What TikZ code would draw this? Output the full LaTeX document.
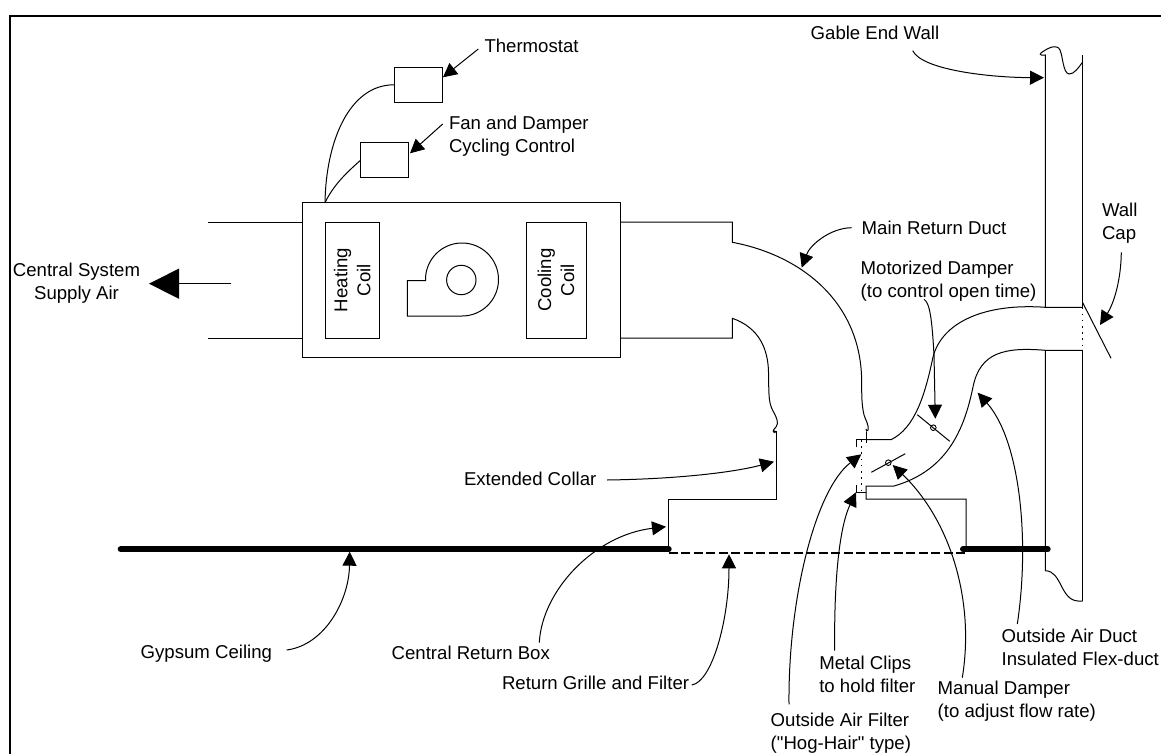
\documentclass[tikz,border=0pt]{standalone}
\usepackage{fontspec}
\newfontfamily\lf{Liberation Sans}
\usetikzlibrary{arrows.meta}
\tikzset{
  base/.style={line width=1pt,black},
  boxnode/.style={draw,line width=1pt,inner sep=0pt,outer sep=0pt,anchor=center},
  lab/.style={anchor=north west,inner sep=0pt,outer sep=0pt,align=left,font=\lf\fontsize{18.6}{23}\selectfont},
  labc/.style={anchor=north,inner sep=0pt,outer sep=0pt,align=center,font=\lf\fontsize{18.6}{23}\selectfont},
  coil/.style={inner sep=0pt,outer sep=0pt,align=center,rotate=90,font=\lf\fontsize{18.6}{23}\selectfont},
  lead/.style={line width=1pt,-{Triangle[length=14pt,width=14pt]}},
  ceiling/.style={line width=6pt,line cap=round},
  dots/.style={line width=1.5pt,dash pattern=on 1.6pt off 4.6pt},
  pivot/.style={circle,draw,line width=.9pt,minimum size=5.6pt,inner sep=0pt,outer sep=0pt},
}
\begin{document}
\begin{tikzpicture}[x=1pt,y=-1pt,line join=miter]
\useasboundingbox (0,0) rectangle (1161,754);
% frame
\draw[line width=2pt] (10,754) -- (10,16.5) -- (1161,16.5);

% boxes
\node[boxnode,minimum width=317.7pt,minimum height=154.6pt] (unit) at (461.2,280) {};
\node[boxnode,minimum width=54pt,minimum height=116pt] (heatbox) at (352.3,280) {};
\node[boxnode,minimum width=60.4pt,minimum height=116pt] (coolbox) at (556.5,280) {};
\node[boxnode,minimum width=48.7pt,minimum height=35pt] (tstat) at (418.6,84.8) {};
\node[boxnode,minimum width=48.7pt,minimum height=35pt] (fanctl) at (384.6,160.5) {};
\node[coil] (heattxt) at (354.2,280) {\strut Heating\\\strut Coil};
\node[coil] (cooltxt) at (558,280) {\strut Cooling\\\strut Coil};

% blower
\draw[base] (407.3,280.7) -- (425.5,280.7) -- (425.5,279.5)
  .. controls (425.5,259.3) and (441.8,243) .. (462,243)
  .. controls (482.2,243) and (498.5,259.3) .. (498.5,279.5)
  .. controls (498.5,299.7) and (482.2,316) .. (462,316)
  -- (407.3,316) -- cycle;
\node[circle,draw,line width=1pt,minimum size=29.4pt,inner sep=0pt] (rotor) at (461.3,280) {};

% supply stubs
\coordinate (supT) at (208,222.3);
\coordinate (supB) at (208,338);
\draw[base] (supT) -- (supT -| unit.west);
\draw[base] (supB) -- (supB -| unit.west);

% return duct, upper side
\coordinate (retT) at (620,222);
\coordinate (stepT) at (732.3,222);
\coordinate (stepT2) at (732.3,242.3);
\coordinate (clipTop) at (866,443);
\coordinate (fTL) at (866,439.7);
\coordinate (fBL) at (866,492);
\draw[base] (retT) -- (stepT) -- (stepT2)
  .. controls (800,255) and (858,300) .. (861.5,375)
  .. controls (862,392) and (861,402) .. (864,415)
  .. controls (866,421) and (869,425) .. (868,430)
  .. controls (867.5,432) and (865.5,431) .. (866,429);
\draw[base] (clipTop) -- (866,432);

% return duct, lower side and collar
\coordinate (retB) at (620,338);
\coordinate (stepB) at (732.3,338);
\coordinate (stepB2) at (732.3,318.3);
\coordinate (boxTR) at (776,499);
\coordinate (boxTL) at (668.7,499);
\coordinate (boxBL) at (668.7,549.3);
\draw[base] (retB) -- (stepB) -- (stepB2)
  .. controls (760,328) and (768,350) .. (768.5,372)
  .. controls (769,392) and (768,402) .. (773,411)
  .. controls (777,418) and (779,423) .. (776,427)
  .. controls (773,430) and (772,432) .. (775,432.5)
  .. controls (777,432.5) and (775,430) .. (773.5,431);
\draw[base] (776,431) -- (boxTR) -- (boxTL) -- (boxBL);

% outside-air duct
\coordinate (ductAT) at (866,439.7);
\coordinate (ductA1) at (891,439.7);
\coordinate (wallT) at (1045.3,307.3);
\coordinate (capT) at (1082.7,307.3);
\coordinate (capB) at (1082.7,350.3);
\coordinate (wallB) at (1045.3,350.3);
\coordinate (ductB1) at (894,486);
\coordinate (ductBt) at (866,486);
\coordinate (stepR1) at (866,499);
\coordinate (stepR2) at (966,499);
\coordinate (stepR3) at (966,549.3);
\draw[base] (ductAT) -- (ductA1)
  .. controls (915,428) and (925,395) .. (933,357)
  .. controls (942,322) and (985,303) .. (wallT)
  -- (capT);
\draw[base] (capB) -- (wallB)
  .. controls (1005,347) and (980,352) .. (973,387)
  .. controls (965,425) and (950,470) .. (ductB1)
  -- (ductBt) -- (stepR1) -- (stepR2) -- (stepR3);

% filter
\coordinate (fil1) at (861.3,440);
\coordinate (fil2) at (861.3,492);
\draw[base] (856,447) -- (856,439.7) -- (fTL);
\draw[base] (856,485) -- (856,492) -- (fBL);
\draw[dots] (fil1) -- (fil2);

% dampers
\node[pivot] (motorp) at (933.3,427.7) {};
\node[pivot] (manualp) at (888.3,462.7) {};
\coordinate (mot1) at (917.3,414.7);
\coordinate (mot2) at (949.7,441.3);
\coordinate (man1) at (871.3,472.3);
\coordinate (man2) at (905.3,453.7);
\draw[base] (mot1) -- (mot2);
\draw[base] (man1) -- (man2);

% wall
\coordinate (wLtop) at (1045.3,55);
\coordinate (wRtop) at (1082.7,55);
\coordinate (wLbot) at (1045.3,570.7);
\coordinate (wRbot) at (1082.7,601);
\draw[base] (wallT) -- (wLtop)
  .. controls (1038,56) and (1040,53) .. (1043,51.5)
  .. controls (1050,47) and (1057,44) .. (1060,50)
  .. controls (1063,57) and (1063,73) .. (1069,74)
  .. controls (1074,74.5) and (1079,67) .. (1082.7,62);
\draw[base] (wRtop) -- (capT);
\draw[base] (wallB) -- (wLbot)
  .. controls (1062,571) and (1060,600) .. (1078,601) -- (wRbot);
\draw[base] (capB) -- (wRbot);
\draw[dots] (capT) -- (capB);

% wall cap line
\coordinate (cap1) at (1082.7,302.7);
\coordinate (cap2) at (1111,358.3);
\draw[base] (cap1) -- (cap2);

% ceiling
\coordinate (ceilA) at (120.7,549.3);
\coordinate (ceilC) at (963,549.3);
\coordinate (ceilD) at (1047.7,549.3);
\draw[ceiling] (ceilA) -- (boxBL);
\draw[ceiling] (ceilC) -- (ceilD);
\coordinate (grA) at (668.7,553);
\coordinate (grB) at (966,553);
\draw[line width=1.1pt,dash pattern=on 9pt off 3.5pt] (grA) -- (grB);

% supply arrow
\coordinate (supS) at (231,283.7);
\coordinate (supE) at (149,283.7);
\draw[line width=1pt,-{Triangle[length=30pt,width=30pt]}] (supS) -- (supE);

% wires
\coordinate (wireO) at (325,202.7);
\draw[base] (wireO) .. controls (326,140) and (350,84.5) .. (tstat.west);
\draw[base] (wireO) .. controls (333,186) and (345,174) .. (fanctl.west);

% labels
\node[lab] (lthermo) at (484.5,36.4) {\strut Thermostat};
\node[lab] (lfan) at (449,113.9) {\strut Fan and Damper\\\strut Cycling Control};
\node[lab] (lgable) at (810.7,23.4) {\strut Gable End Wall};
\node[lab] (lmain) at (861.7,218.6) {\strut Main Return Duct};
\node[lab] (lwall) at (1102,200.6) {\strut Wall\\\strut Cap};
\node[lab] (lmotor) at (860.7,258.3) {\strut Motorized Damper\\\strut (to control open time)};
\node[labc] (lsupply) at (76.5,260.6) {\strut Central System\\\strut Supply Air};
\node[lab] (lcollar) at (464,469.6) {\strut Extended Collar};
\node[lab] (lgyp) at (140.7,642.3) {\strut Gypsum Ceiling};
\node[lab] (lbox) at (391.7,643.3) {\strut Central Return Box};
\node[lab] (lgrille) at (502,673.6) {\strut Return Grille and Filter};
\node[lab] (lclips) at (819.3,653.3) {\strut Metal Clips\\\strut to hold filter};
\node[lab] (lfilter) at (770.7,709.9) {\strut Outside Air Filter\\\strut ("Hog-Hair" type)};
\node[lab] (lmanual) at (937.7,678.3) {\strut Manual Damper\\\strut (to adjust flow rate)};
\node[lab] (lduct) at (1001.7,626.3) {\strut Outside Air Duct\\\strut Insulated Flex-duct};

% leader arrows
\coordinate (aThS) at (478.3,49);
\coordinate (aFanS) at (442.7,124);
\draw[lead] (aThS) -- (tstat.east |- 0,77.3);
\draw[lead] (aFanS) -- (410,153.3);
\coordinate (aGabS) at (912.7,50.7);
\coordinate (aGabT) at (1044,77.7);
\draw[lead] (aGabS) .. controls (922,70) and (990,77.5) .. (aGabT);
\coordinate (aMainS) at (851.7,227.7);
\coordinate (aMainT) at (801.7,267.7);
\draw[lead] (aMainS) .. controls (830,228) and (810,245) .. (aMainT);
\coordinate (aCapS) at (1121.3,252.3);
\coordinate (aCapT) at (1100,325);
\draw[lead] (aCapS) .. controls (1121,280) and (1114,303) .. (aCapT);
\coordinate (aMotS) at (924,299.3);
\coordinate (aMotT) at (935.3,418.7);
\draw[lead] (aMotS) .. controls (930,303) and (932,320) .. (934,355) -- (aMotT);
\coordinate (aColS) at (607,480);
\coordinate (aColT) at (774,461.7);
\draw[lead] (aColS) .. controls (680,479) and (735,472) .. (aColT);
\coordinate (aGypS) at (286.7,650);
\coordinate (aGypT) at (349.7,551.7);
\draw[lead] (aGypS) .. controls (325,645) and (349,600) .. (aGypT);
\coordinate (aBoxS) at (539.3,642.7);
\coordinate (aBoxT) at (666,526.7);
\draw[lead] (aBoxS) .. controls (542,590) and (595,535) .. (aBoxT);
\coordinate (aGrS) at (691.7,685);
\coordinate (aGrT) at (729,554.3);
\draw[lead] (aGrS) .. controls (712,682) and (729,620) .. (aGrT);
\coordinate (aFilS) at (789,704.3);
\coordinate (aFilT) at (861.3,454.3);
\draw[lead] (aFilS) .. controls (788,600) and (815,490) .. (aFilT);
\coordinate (aClS) at (834.7,650.7);
\coordinate (aClT) at (856,492.3);
\draw[lead] (aClS) .. controls (834,590) and (838,530) .. (aClT);
\coordinate (aManS) at (962.3,677.7);
\coordinate (aManT) at (892.7,465);
\draw[lead] (aManS) .. controls (975,600) and (950,520) .. (aManT);
\coordinate (aDuS) at (1017.3,624);
\coordinate (aDuT) at (977.7,392.7);
\draw[lead] (aDuS) .. controls (1030,540) and (1020,440) .. (aDuT);
\end{tikzpicture}
\end{document}
